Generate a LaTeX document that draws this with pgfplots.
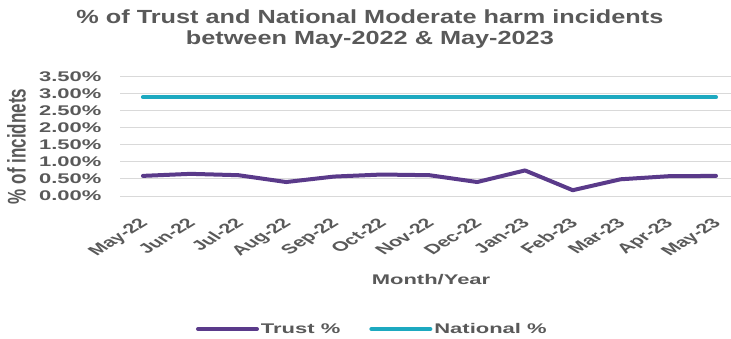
\documentclass[border=0pt]{standalone}
\usepackage{pgfplots}
\pgfplotsset{compat=1.18}
\usepackage{fontspec}
\setmainfont{Liberation Sans}[FakeStretch=1.57]
\newfontfamily\plainsans{Liberation Sans}
\newfontfamily\titlefont{Liberation Sans}[FakeStretch=1.33]
\definecolor{txt}{HTML}{595959}
\definecolor{trust}{HTML}{5A3A8A}
\definecolor{natl}{HTML}{1DA9C0}
\definecolor{grd}{HTML}{D9D9D9}
\begin{document}
\begin{tikzpicture}
\path[use as bounding box] (0,0) rectangle (731bp,339bp);
\begin{axis}[
  at={(120bp,143bp)}, anchor=south west,
  scale only axis, width=611bp, height=119.3bp,
  xmin=-0.48, xmax=12.314, ymin=0, ymax=3.5,
  axis line style={draw=none},
  major tick length=0pt,
  ymajorgrids, major grid style={grd, line width=1bp},
  ytick={0,0.5,1,1.5,2,2.5,3,3.5},
  yticklabels={0.00\%,0.50\%,1.00\%,1.50\%,2.00\%,2.50\%,3.00\%,3.50\%},
  yticklabel style={font=\fontsize{14bp}{17bp}\selectfont\bfseries, text=txt, anchor=east, xshift=-15bp},
  xtick={0,1,2,3,4,5,6,7,8,9,10,11,12},
  xticklabels={May-22,Jun-22,Jul-22,Aug-22,Sep-22,Oct-22,Nov-22,Dec-22,Jan-23,Feb-23,Mar-23,Apr-23,May-23},
  xticklabel style={font=\plainsans\fontsize{13.5bp}{16bp}\selectfont\bfseries, text=txt, inner sep=0pt,
    xshift=-5bp, yshift=-21bp, xscale=1.6, rotate=45, anchor=north east},
  xlabel={Month/Year},
  xlabel style={at={(axis description cs:0.509,-0.738)}, anchor=base, font=\fontsize{14bp}{17bp}\selectfont\bfseries, text=txt},
  ylabel={\% of incidnets},
  ylabel style={at={(axis description cs:-0.1694,0.415)}, anchor=center, rotate=-90, xscale=1.5, rotate=90, font=\plainsans\fontsize{17bp}{20bp}\selectfont\bfseries, text=txt},
  title={\% of Trust and National Moderate harm incidents\\between May-2022 \& May-2023},
  title style={at={(axis description cs:0.409,1.517)}, anchor=north, align=center, inner sep=0pt, font=\titlefont\fontsize{19bp}{21bp}\selectfont\bfseries, text=txt},
  legend columns=2,
  legend style={at={(axis description cs:0.413,-1.115)}, anchor=center, draw=none, fill=none,
    font=\fontsize{14bp}{17bp}\selectfont\bfseries, text=txt,
    /tikz/every even column/.append style={column sep=27bp}},
  legend image code/.code={\draw[#1, line cap=round] (0bp,0bp) -- (59bp,0bp);},
]
\addplot[trust, line width=4bp, line join=round, line cap=round] coordinates {
  (0,0.59) (1,0.65) (2,0.61) (3,0.41) (4,0.57) (5,0.63) (6,0.61) (7,0.41) (8,0.75) (9,0.17) (10,0.49) (11,0.58) (12,0.59)};
\addlegendentry{Trust \%}
\addplot[natl, line width=4bp, line cap=round] coordinates {
  (0,2.9) (1,2.9) (2,2.9) (3,2.9) (4,2.9) (5,2.9) (6,2.9) (7,2.9) (8,2.9) (9,2.9) (10,2.9) (11,2.9) (12,2.9)};
\addlegendentry{National \%}
\end{axis}
\end{tikzpicture}
\end{document}
